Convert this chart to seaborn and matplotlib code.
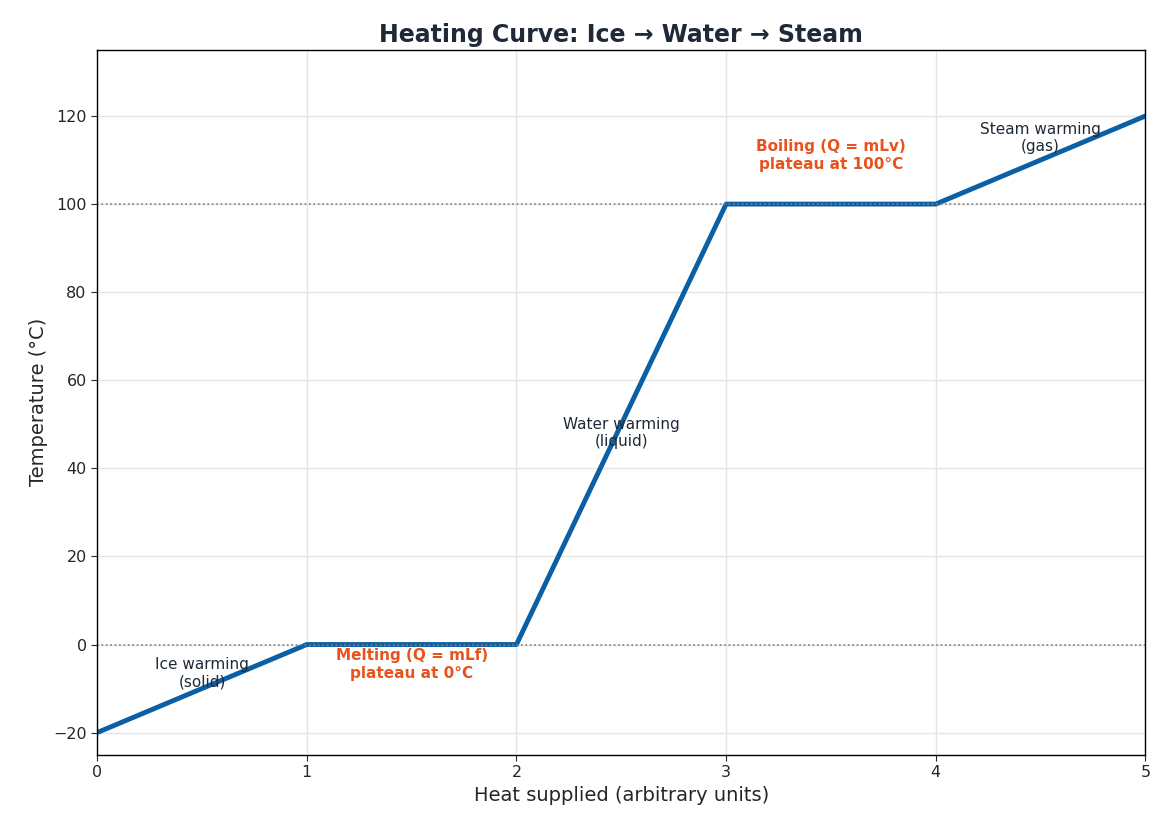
import matplotlib
matplotlib.use("Agg")
import matplotlib.pyplot as plt
import seaborn as sns
import pandas as pd

heat = [0, 1, 2, 3, 4, 5]
temp = [-20, 0, 0, 100, 100, 120]

labels_plain = [("Ice warming\n(solid)", 0.5, -6.5),
                ("Water warming\n(liquid)", 2.5, 48),
                ("Steam warming\n(gas)", 4.5, 115)]
labels_phase = [("Melting (Q = mLf)\nplateau at 0°C", 1.5, -4.5),
                ("Boiling (Q = mLv)\nplateau at 100°C", 3.5, 111)]

sns.set_style("white")
fig, ax = plt.subplots(figsize=(11.7, 8.32), dpi=100)
df = pd.DataFrame({"heat": heat, "temp": temp})
sns.lineplot(data=df, x="heat", y="temp", ax=ax, color="#0a5fa5", linewidth=3.5)

ax.axhline(0, color="gray", linestyle=":", linewidth=1.2)
ax.axhline(100, color="gray", linestyle=":", linewidth=1.2)

for txt, x, y in labels_plain:
    ax.text(x, y, txt, ha="center", va="center", fontsize=11, color="#1f2937")
for txt, x, y in labels_phase:
    ax.text(x, y, txt, ha="center", va="center", fontsize=11,
            color="#e8521c", fontweight="bold")

ax.set_xlim(0, 5)
ax.set_ylim(-25, 135)
ax.set_yticks(range(-20, 121, 20))
ax.grid(True, color="#e5e5e5", linewidth=1)
for s in ax.spines.values():
    s.set_color("black")
    s.set_linewidth(1)
ax.tick_params(labelsize=11.5, left=True, bottom=True, length=4)
ax.set_xlabel("Heat supplied (arbitrary units)", fontsize=14)
ax.set_ylabel("Temperature (°C)", fontsize=14)
ax.set_title("Heating Curve: Ice → Water → Steam", fontsize=17,
             fontweight="bold", color="#1f2937")

plt.subplots_adjust(left=0.083, right=0.979, top=0.94, bottom=0.093)
fig.savefig("out.png", dpi=100)
